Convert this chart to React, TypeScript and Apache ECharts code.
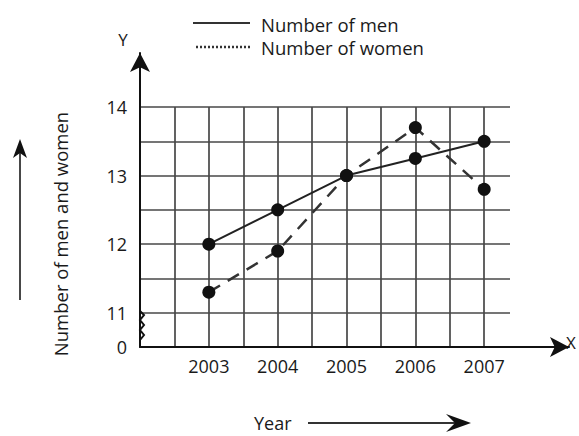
import React, { useEffect, useRef } from "react";
import * as echarts from "echarts";

const years = [2003, 2004, 2005, 2006, 2007];
const men = [12.0, 12.5, 13.0, 13.25, 13.5];
const women = [11.3, 11.9, 13.0, 13.7, 12.8];
const yTickLabels: Record<string, string> = { "10.5": "0", "11": "11", "12": "12", "13": "13", "14": "14" };
const legendNames = ["Number of men", "Number of women"];
const yTitle = "Number of men and women";
const xTitle = "Year";

const FONT = "'Open Sans', 'Liberation Sans', sans-serif";

export default function App() {
  const ref = useRef<HTMLDivElement>(null);
  useEffect(() => {
    if (!ref.current) return;
    const chart = echarts.init(ref.current, null, { renderer: "svg" });
    const gridColor = "#474747";
    chart.setOption({
      animation: false,
      backgroundColor: "#ffffff",
      textStyle: { fontFamily: FONT },
      grid: [
        { left: 140, right: 69, top: 107, bottom: 89 },
        { left: 140, right: 10, top: 53, bottom: 89 },
      ],
      xAxis: [
        {
          type: "value",
          gridIndex: 0,
          min: 2002,
          max: 2007.375,
          interval: 0.5,
          axisLine: { show: false },
          axisTick: { show: false },
          axisLabel: {
            margin: 10,
            fontSize: 18,
            color: "#1a1a1a",
            fontFamily: FONT,
            formatter: (v: number) => (years.includes(v) ? String(v) : ""),
          },
          splitLine: {
            show: true,
            showMinLine: false,
            showMaxLine: false,
            lineStyle: { color: gridColor, width: 1.7 },
          },
        },
        {
          type: "value",
          gridIndex: 1,
          min: 0,
          max: 1,
          axisLine: {
            show: true,
            symbol: ["none", "arrow"],
            symbolSize: [15, 19],
            lineStyle: { color: "#111", width: 2 },
          },
          axisTick: { show: false },
          axisLabel: { show: false },
          splitLine: { show: false },
        },
      ],
      yAxis: [
        {
          type: "value",
          gridIndex: 0,
          min: 10.5,
          max: 14,
          interval: 0.5,
          axisLine: { show: false },
          axisTick: { show: false },
          axisLabel: {
            margin: 13,
            fontSize: 18,
            color: "#1a1a1a",
            fontFamily: FONT,
            formatter: (v: number) => yTickLabels[String(v)] ?? "",
          },
          splitLine: {
            show: true,
            showMinLine: false,
            lineStyle: { color: gridColor, width: 1.7 },
          },
        },
        {
          type: "value",
          gridIndex: 1,
          min: 0,
          max: 1,
          axisLine: {
            show: true,
            symbol: ["none", "arrow"],
            symbolSize: [15, 19],
            lineStyle: { color: "#111", width: 2 },
          },
          axisTick: { show: false },
          axisLabel: { show: false },
          splitLine: { show: false },
        },
      ],
      series: [
        {
          name: legendNames[0],
          type: "line",
          xAxisIndex: 0,
          yAxisIndex: 0,
          data: years.map((y, i) => [y, men[i]]),
          symbol: "circle",
          symbolSize: 13,
          itemStyle: { color: "#111" },
          lineStyle: { color: "#222", width: 2 },
          z: 5,
        },
        {
          name: legendNames[1],
          type: "line",
          xAxisIndex: 0,
          yAxisIndex: 0,
          data: years.map((y, i) => [y, women[i]]),
          symbol: "circle",
          symbolSize: 13,
          itemStyle: { color: "#111" },
          lineStyle: { color: "#333", width: 2.5, type: [13, 9] },
          z: 4,
        },
      ],
      graphic: [
        // legend
        { type: "line", shape: { x1: 193, y1: 23, x2: 250, y2: 23 }, style: { stroke: "#333", lineWidth: 2 } },
        { type: "text", x: 261, y: 24, style: { text: legendNames[0], font: `18.5px ${FONT}`, fill: "#1a1a1a", verticalAlign: "middle" } },
        { type: "line", shape: { x1: 196, y1: 47, x2: 250, y2: 47 }, style: { stroke: "#333", lineWidth: 2.5, lineDash: [2, 2] } },
        { type: "text", x: 261, y: 47, style: { text: legendNames[1], font: `18.5px ${FONT}`, fill: "#1a1a1a", verticalAlign: "middle" } },
        // axis names
        { type: "text", x: 123, y: 39, style: { text: "Y", font: `17px ${FONT}`, fill: "#1a1a1a", align: "center", verticalAlign: "middle" } },
        { type: "text", x: 571, y: 342, style: { text: "X", font: `17px ${FONT}`, fill: "#1a1a1a", align: "center", verticalAlign: "middle" } },
        // axis break squiggle
        {
          type: "polyline",
          shape: { points: [[140, 311], [144, 315], [140, 320], [144, 325], [140, 330], [144, 335], [140, 340]] },
          style: { stroke: "#111", lineWidth: 2, fill: "none" },
          z: 10,
        },
        // y title with arrow
        {
          type: "text",
          x: 60,
          y: 234,
          rotation: Math.PI / 2,
          style: { text: yTitle, font: `18.5px ${FONT}`, fill: "#1a1a1a", align: "center", verticalAlign: "middle" },
        },
        { type: "line", shape: { x1: 20, y1: 300, x2: 20, y2: 152 }, style: { stroke: "#333", lineWidth: 1.8 } },
        { type: "polygon", shape: { points: [[20, 139], [27, 158], [20, 153], [13, 158]] }, style: { fill: "#111" } },
        // x title with arrow
        { type: "text", x: 254, y: 423, style: { text: xTitle, font: `18px ${FONT}`, fill: "#1a1a1a", verticalAlign: "middle" } },
        { type: "line", shape: { x1: 308, y1: 423, x2: 460, y2: 423 }, style: { stroke: "#333", lineWidth: 2 } },
        { type: "polygon", shape: { points: [[471, 423], [446, 414], [455, 423], [446, 432]] }, style: { fill: "#111" } },
      ],
    });
    return () => chart.dispose();
  }, []);
  return <div ref={ref} style={{ position: "absolute", left: 0, top: 0, width: 579, height: 436 }} />;
}
